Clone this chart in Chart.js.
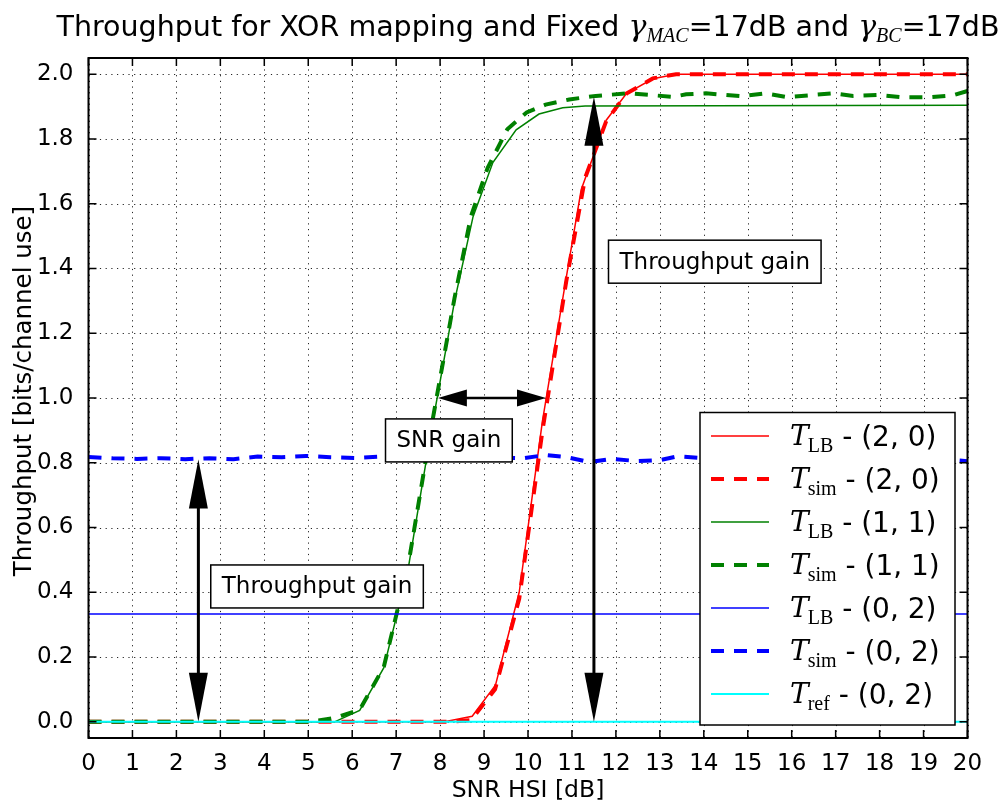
<!DOCTYPE html>
<html>
<head>
<meta charset="utf-8">
<script src="https://cdn.jsdelivr.net/npm/chart.js@4.4.0/dist/chart.umd.min.js"></script>
<style>body{margin:0;background:#fff}</style>
</head>
<body>
<canvas id="c" width="1002" height="804"></canvas>
<script>
// tick values
const xTicks = [0,1,2,3,4,5,6,7,8,9,10,11,12,13,14,15,16,17,18,19,20];
const yTicks = [0,0.2,0.4,0.6,0.8,1.0,1.2,1.4,1.6,1.8,2.0];

// T_LB (2,0)
const xRedLB = [0, 8.1, 8.73, 9.26, 9.8, 10.33, 10.87, 11.21, 11.78, 12.24, 12.84, 13.37, 20];
const yRedLB = [0, 0, 0.017, 0.113, 0.40, 0.93, 1.372, 1.643, 1.858, 1.94, 1.986, 2.0, 2.0];
// T_sim (2,0)
const xRedSim = [0, 8.2, 8.7, 9.25, 9.8, 10.33, 10.87, 11.3, 11.78, 12.24, 12.84, 13.37, 20];
const yRedSim = [0, 0, 0.005, 0.1, 0.38, 0.9, 1.36, 1.68, 1.855, 1.94, 1.987, 2.0, 2.0];
// T_LB (1,1)
const xGreenLB = [0, 5.6, 6.17, 6.72, 7.27, 7.8, 8.33, 8.75, 9.2, 9.73, 10.25, 10.79, 11.3, 20];
const yGreenLB = [0, 0, 0.035, 0.167, 0.47, 0.9, 1.3, 1.56, 1.727, 1.828, 1.877, 1.896, 1.902, 1.904];
// T_sim (1,1)
const xGreenSim = [0, 5.05, 5.6, 6.17, 6.72, 7.27, 7.8, 8.33, 8.7, 9.08, 9.53, 9.97, 10.4, 10.94, 11.54, 12.3, 13.3, 13.6, 14.05, 14.85, 15.4, 15.9, 16.94, 17.4, 17.94, 18.47, 19.16, 19.68, 20];
const yGreenSim = [0, 0, 0.012, 0.037, 0.17, 0.48, 0.91, 1.31, 1.56, 1.71, 1.83, 1.882, 1.906, 1.922, 1.933, 1.941, 1.93, 1.938, 1.941, 1.932, 1.941, 1.929, 1.941, 1.933, 1.936, 1.929, 1.929, 1.935, 1.948];
// T_LB (0,2)
const xBlueLB = [0, 20];
const yBlueLB = [0.333, 0.333];
// T_sim (0,2)
const xBlueSim = [0, 0.55, 1.1, 1.65, 2.2, 2.75, 3.3, 3.85, 4.4, 4.95, 5.5, 6.05, 6.6, 7.15, 7.7, 8.25, 8.8, 9.35, 9.9, 10.4, 10.9, 11.4, 11.9, 12.5, 13.0, 13.4, 13.9, 14.5, 15, 15.5, 16, 16.6, 17.1, 17.6, 18.2, 18.7, 19.2, 19.7, 20];
const yBlueSim = [0.818, 0.814, 0.812, 0.814, 0.811, 0.814, 0.811, 0.819, 0.817, 0.821, 0.817, 0.815, 0.819, 0.816, 0.814, 0.816, 0.813, 0.816, 0.814, 0.824, 0.817, 0.802, 0.812, 0.805, 0.808, 0.82, 0.815, 0.812, 0.818, 0.81, 0.815, 0.812, 0.818, 0.81, 0.815, 0.812, 0.81, 0.808, 0.805];
// T_ref (0,2)
const xCyanRef = [0, 20];
const yCyanRef = [0, 0];

function pts(xs, ys) { return xs.map((x, i) => ({x: x, y: ys[i]})); }

const DASH = [13, 10];
const datasets = [
    {sub: 'LB', tail: ' - (2, 0)', data: pts(xRedLB, yRedLB), borderColor: '#ff0000', borderWidth: 1.5},
    {sub: 'sim', tail: ' - (2, 0)', data: pts(xRedSim, yRedSim), borderColor: '#ff0000', borderWidth: 4, borderDash: DASH},
    {sub: 'LB', tail: ' - (1, 1)', data: pts(xGreenLB, yGreenLB), borderColor: '#008000', borderWidth: 1.5},
    {sub: 'sim', tail: ' - (1, 1)', data: pts(xGreenSim, yGreenSim), borderColor: '#008000', borderWidth: 4, borderDash: DASH},
    {sub: 'LB', tail: ' - (0, 2)', data: pts(xBlueLB, yBlueLB), borderColor: '#0000ff', borderWidth: 1.5},
    {sub: 'sim', tail: ' - (0, 2)', data: pts(xBlueSim, yBlueSim), borderColor: '#0000ff', borderWidth: 4, borderDash: DASH},
    {sub: 'ref', tail: ' - (0, 2)', data: pts(xCyanRef, yCyanRef), borderColor: '#00ffff', borderWidth: 2}
].map((d, i, arr) => Object.assign({pointRadius: 0, fill: false, tension: 0, order: arr.length - 1 - i}, d));

// annotations (data units)
const arrows = [
    {x1: 2.5, y1: 0, x2: 2.5, y2: 0.81, head: 49, hw: 19, lw: 3},
    {x1: 11.5, y1: 0, x2: 11.5, y2: 1.93, head: 49, hw: 19, lw: 3},
    {x1: 7.95, y1: 1.0, x2: 10.41, y2: 1.0, head: 29, hw: 17, lw: 2.5}
];
const boxes = [
    {text: 'Throughput gain', x: 5.2, y: 0.418},
    {text: 'SNR gain', x: 8.2, y: 0.869},
    {text: 'Throughput gain', x: 14.25, y: 1.421}
];

const SANS = "'DejaVu Sans', sans-serif";

function richText(ctx, segs, cx, baseY) {
    let w = 0;
    segs.forEach(s => { ctx.font = s.font; s.w = ctx.measureText(s.t).width; w += s.w; });
    let x = cx - w / 2;
    ctx.textAlign = 'left';
    ctx.textBaseline = 'alphabetic';
    segs.forEach(s => { ctx.font = s.font; ctx.fillText(s.t, x, baseY + (s.dy || 0)); x += s.w; });
}

function head(ctx, tx, ty, ux, uy, len, w) {
    // tip at (tx,ty), pointing along (ux,uy)
    const bx = tx - ux * len, by = ty - uy * len;
    ctx.beginPath();
    ctx.moveTo(tx, ty);
    ctx.lineTo(bx - uy * w / 2, by + ux * w / 2);
    ctx.lineTo(bx + uy * w / 2, by - ux * w / 2);
    ctx.closePath();
    ctx.fill();
}

const decor = {
    id: 'decor',
    beforeDatasetsDraw(chart) {
        const {ctx, chartArea: a, scales: {x, y}} = chart;
        ctx.save();
        ctx.strokeStyle = 'rgba(0,0,0,0.85)';
        ctx.lineWidth = 1;
        ctx.setLineDash([1.2, 4.5]);
        xTicks.forEach(v => {
            const px = Math.round(x.getPixelForValue(v)) + 0.5;
            ctx.beginPath(); ctx.moveTo(px, a.top); ctx.lineTo(px, a.bottom); ctx.stroke();
        });
        yTicks.forEach(v => {
            const py = Math.round(y.getPixelForValue(v)) + 0.5;
            ctx.beginPath(); ctx.moveTo(a.left, py); ctx.lineTo(a.right, py); ctx.stroke();
        });
        ctx.restore();
    },
    afterDatasetsDraw(chart) {
        const {ctx, chartArea: a, scales: {x, y}} = chart;
        ctx.save();
        ctx.setLineDash([]);
        ctx.fillStyle = '#000';
        ctx.strokeStyle = '#000';

        // arrows
        arrows.forEach(r => {
            const x1 = x.getPixelForValue(r.x1), y1 = y.getPixelForValue(r.y1);
            const x2 = x.getPixelForValue(r.x2), y2 = y.getPixelForValue(r.y2);
            const L = Math.hypot(x2 - x1, y2 - y1), ux = (x2 - x1) / L, uy = (y2 - y1) / L;
            ctx.lineWidth = r.lw;
            ctx.beginPath();
            ctx.moveTo(x1 + ux * r.head * 0.9, y1 + uy * r.head * 0.9);
            ctx.lineTo(x2 - ux * r.head * 0.9, y2 - uy * r.head * 0.9);
            ctx.stroke();
            head(ctx, x2, y2, ux, uy, r.head, r.hw);
            head(ctx, x1, y1, -ux, -uy, r.head, r.hw);
        });

        // text boxes
        ctx.font = '23px ' + SANS;
        boxes.forEach(b => {
            const cx = x.getPixelForValue(b.x), cy = y.getPixelForValue(b.y);
            const w = ctx.measureText(b.text).width + 22, h = 43;
            ctx.fillStyle = '#fff';
            ctx.fillRect(cx - w / 2, cy - h / 2, w, h);
            ctx.lineWidth = 1.5;
            ctx.strokeRect(cx - w / 2, cy - h / 2, w, h);
            ctx.fillStyle = '#000';
            ctx.textAlign = 'center';
            ctx.textBaseline = 'middle';
            ctx.fillText(b.text, cx, cy + 1);
        });

        // frame and inward ticks
        ctx.lineWidth = 2;
        ctx.strokeRect(a.left, a.top, a.right - a.left, a.bottom - a.top);
        ctx.lineWidth = 1.5;
        ctx.beginPath();
        xTicks.forEach(v => {
            const px = x.getPixelForValue(v);
            ctx.moveTo(px, a.bottom); ctx.lineTo(px, a.bottom - 8);
            ctx.moveTo(px, a.top); ctx.lineTo(px, a.top + 8);
        });
        yTicks.forEach(v => {
            const py = y.getPixelForValue(v);
            ctx.moveTo(a.left, py); ctx.lineTo(a.left + 8, py);
            ctx.moveTo(a.right, py); ctx.lineTo(a.right - 8, py);
        });
        ctx.stroke();

        // legend
        const lx = 700, ly = 412.5, lw = 255, lh = 312.5;
        ctx.fillStyle = '#fff';
        ctx.fillRect(lx, ly, lw, lh);
        ctx.lineWidth = 1.5;
        ctx.strokeStyle = '#000';
        ctx.strokeRect(lx, ly, lw, lh);
        chart.data.datasets.forEach((d, i) => {
            const cy = 436 + i * 43;
            ctx.strokeStyle = d.borderColor;
            ctx.lineWidth = d.borderWidth;
            ctx.setLineDash(d.borderDash || []);
            ctx.beginPath(); ctx.moveTo(711, cy); ctx.lineTo(769, cy); ctx.stroke();
            ctx.setLineDash([]);
            ctx.fillStyle = '#000';
            ctx.textAlign = 'left';
            ctx.textBaseline = 'alphabetic';
            let tx = 790;
            ctx.font = "italic 28px 'DejaVu Serif', serif";
            ctx.fillText('T', tx, cy + 9);
            tx += ctx.measureText('T').width - 1;
            ctx.font = "20px 'Liberation Serif', serif";
            ctx.fillText(d.sub, tx, cy + 16);
            tx += ctx.measureText(d.sub).width;
            ctx.font = '28px ' + SANS;
            ctx.fillText(d.tail, tx, cy + 10);
        });

        // title
        ctx.fillStyle = '#000';
        const sF = '28.5px ' + SANS, gF = "italic 30px 'DejaVu Serif', serif", subF = "italic 20px 'Liberation Serif', serif";
        richText(ctx, [
            {t: 'Throughput for XOR mapping and Fixed ', font: sF},
            {t: '\u03b3', font: gF},
            {t: 'MAC', font: subF, dy: 6},
            {t: '=17dB and ', font: sF},
            {t: '\u03b3', font: gF},
            {t: 'BC', font: subF, dy: 6},
            {t: '=17dB', font: sF}
        ], (a.left + a.right) / 2, 36);

        // axis titles
        ctx.font = '23.5px ' + SANS;
        ctx.textAlign = 'center';
        ctx.textBaseline = 'alphabetic';
        ctx.fillText('SNR HSI [dB]', (a.left + a.right) / 2, 797);
        ctx.font = '24.5px ' + SANS;
        ctx.translate(31, (a.top + a.bottom) / 2 - 7);
        ctx.rotate(-Math.PI / 2);
        ctx.fillText('Throughput [bits/channel use]', 0, 0);
        ctx.restore();
    }
};

new Chart(document.getElementById('c').getContext('2d'), {
    type: 'line',
    data: {datasets: datasets},
    options: {
        responsive: false,
        animation: false,
        layout: {padding: {top: 58, right: 34.5, left: 0, bottom: 0}},
        plugins: {legend: {display: false}, title: {display: false}, tooltip: {enabled: false}},
        scales: {
            x: {
                type: 'linear', min: 0, max: 20,
                grid: {display: false}, border: {display: false},
                afterBuildTicks: s => { s.ticks = xTicks.map(v => ({value: v})); },
                afterFit: s => { s.height = 66; },
                ticks: {color: '#000', font: {family: SANS, size: 23}, padding: 4, maxRotation: 0, autoSkip: false,
                        callback: v => String(v)}
            },
            y: {
                type: 'linear', min: -0.05, max: 2.05,
                grid: {display: false}, border: {display: false},
                afterBuildTicks: s => { s.ticks = yTicks.map(v => ({value: v})); },
                afterFit: s => { s.width = 88.5; },
                ticks: {color: '#000', font: {family: SANS, size: 23}, padding: 7, autoSkip: false,
                        callback: v => v.toFixed(1)}
            }
        }
    },
    plugins: [decor]
});
</script>
</body>
</html>
